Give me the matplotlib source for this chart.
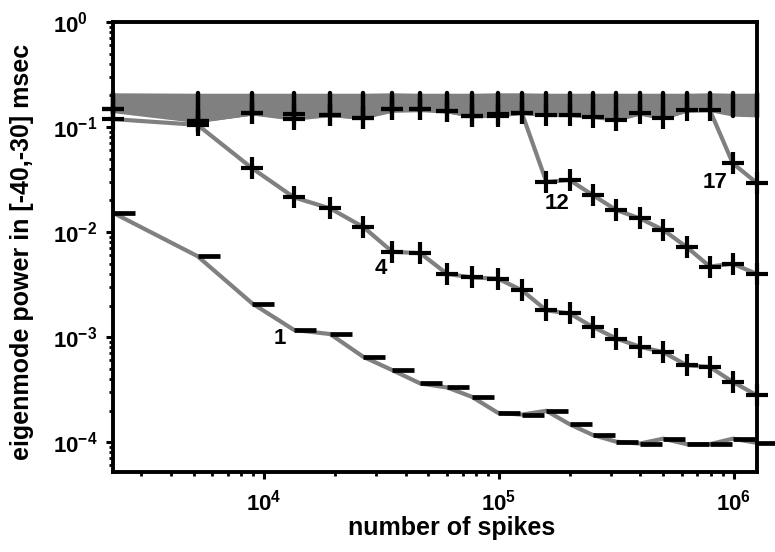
import numpy as np
import matplotlib
matplotlib.use('Agg')
import matplotlib.pyplot as plt
from matplotlib.ticker import LogLocator, NullFormatter

plt.rcParams['font.family'] = ['Liberation Sans', 'DejaVu Sans']
plt.rcParams['font.weight'] = 'bold'
plt.rcParams['mathtext.fontset'] = 'custom'
plt.rcParams['mathtext.rm'] = 'Liberation Sans:bold'
plt.rcParams['mathtext.bf'] = 'Liberation Sans:bold'
plt.rcParams['mathtext.default'] = 'bf'

#------------------
# Data
#------------------

spikes = [2280, 5200, 8900, 13400, 19100, 26400, 35100, 46200, 60100, 76700,
          99000, 125000, 159000, 200000, 251000, 316000, 398000, 500000,
          630000, 790000, 990000, 1250000]

mode1 = [0.0152, 0.0059, 0.00209, 0.00117, 0.00107, 0.00065, 0.000485,
         0.000362, 0.000332, 0.00027, 0.00019, 0.000183, 0.000199, 0.000148,
         0.000117, 0.000101, 0.000097, 0.000108, 0.0000957, 0.0000957,
         0.000108, 0.0000986]

mode4 = [0.119, 0.105, 0.0404, 0.0214, 0.0168, 0.0112, 0.0065, 0.0063,
         0.0040, 0.0037, 0.0036, 0.0028, 0.0018, 0.00168, 0.00125, 0.00097,
         0.00081, 0.00072, 0.00054, 0.00052, 0.000375, 0.00028]

mode12 = [0.148, 0.115, 0.135, 0.132, 0.130, 0.123, 0.147, 0.147, 0.143,
          0.127, 0.133, 0.137, 0.0301, 0.0313, 0.0225, 0.0162, 0.0135,
          0.0105, 0.0072, 0.0047, 0.0050, 0.0040]

mode17 = [0.148, 0.115, 0.135, 0.120, 0.130, 0.123, 0.147, 0.147, 0.143,
          0.127, 0.128, 0.137, 0.130, 0.130, 0.125, 0.117, 0.135, 0.121,
          0.145, 0.145, 0.0451, 0.0295]

# envelope of the higher (noise) eigenmodes
band_hi = [0.212, 0.210, 0.210, 0.210, 0.210, 0.210, 0.212, 0.210, 0.210,
           0.210, 0.212, 0.212, 0.210, 0.210, 0.210, 0.210, 0.210, 0.210,
           0.210, 0.212, 0.210, 0.210]
band_lo = [0.137, 0.110, 0.130, 0.120, 0.126, 0.120, 0.138, 0.140, 0.136,
           0.124, 0.126, 0.132, 0.127, 0.127, 0.122, 0.115, 0.130, 0.119,
           0.138, 0.140, 0.127, 0.125]

# mode name labels: (text, x, y)
mode_labels = [('1', 11700, 0.00098), ('4', 31500, 0.00454),
               ('12', 176000, 0.0189), ('17', 830000, 0.0299)]

#------------------
# Plot
#------------------

gray = '#808080'

fig = plt.figure(figsize=(7.75, 5.52), dpi=100)
ax = fig.add_axes([0.1458, 0.1449, 0.8310, 0.8152])
ax.set_xscale('log')
ax.set_yscale('log')

ax.fill_between(spikes, band_lo, band_hi, color=gray, lw=0, zorder=1)

for vals in (mode1, mode4, mode12, mode17):
    ax.plot(spikes, vals, color=gray, lw=3, solid_capstyle='round', zorder=2)

vl = ax.vlines(spikes, band_lo, band_hi, color='black', lw=3.2, zorder=3)
vl.set_capstyle('round')
vl.set_clip_on(False)

ax.plot(spikes, mode1, ls='none', marker=1, ms=16, mew=3.4, color='black',
        zorder=4, clip_on=False)
for vals in (mode4, mode12, mode17):
    ax.plot(spikes, vals, ls='none', marker='+', ms=16, mew=3, color='black',
            zorder=4, clip_on=False)

for txt, xx, yy in mode_labels:
    ax.text(xx, yy, txt, fontsize=16, fontweight='bold', ha='center', va='center')

ax.set_xlim(2270, 1.255e6)
ax.set_ylim(5.2e-5, 1)

ax.xaxis.set_major_locator(LogLocator(base=10, numticks=12))
ax.xaxis.set_minor_locator(LogLocator(base=10, subs=np.arange(2, 10), numticks=12))
ax.xaxis.set_minor_formatter(NullFormatter())
ax.yaxis.set_major_locator(LogLocator(base=10, numticks=12))
ax.yaxis.set_minor_locator(LogLocator(base=10, subs=np.arange(2, 10), numticks=12))
ax.yaxis.set_minor_formatter(NullFormatter())

ax.tick_params(which='major', direction='out', length=5, width=2.2, labelsize=16)
ax.tick_params(which='minor', direction='out', length=3, width=2)
ax.tick_params(axis='x', which='major', pad=8)
ax.tick_params(axis='y', which='major', pad=38)
plt.setp(ax.get_yticklabels(), ha='left')

for sp in ax.spines.values():
    sp.set_linewidth(2.8)

ax.set_xlabel('number of spikes', fontsize=18, fontweight='bold')
ax.xaxis.set_label_coords(0.526, -0.097)
ax.set_ylabel('eigenmode power in [-40,-30] msec', fontsize=18, fontweight='bold')
ax.yaxis.set_label_coords(-0.123, 0.49)

fig.savefig('out.png', dpi=100)
